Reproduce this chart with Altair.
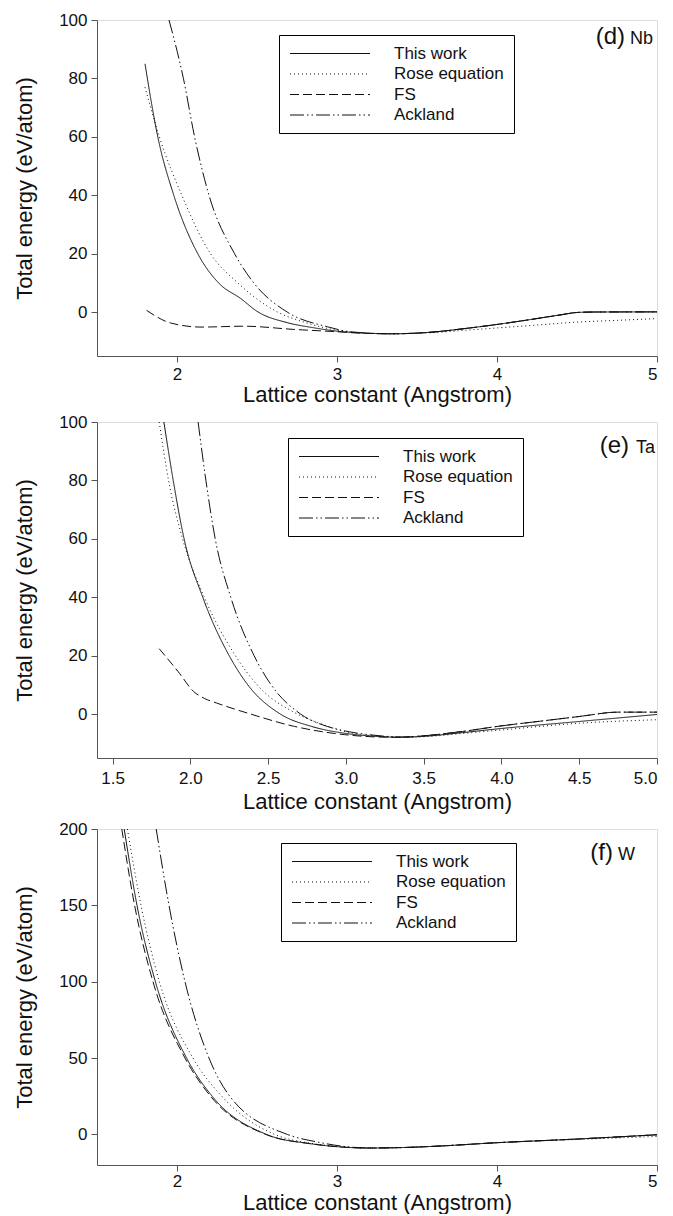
import altair as alt
import pandas as pd

FONT = "Liberation Sans"
SERIES = ["This work", "Rose equation", "FS", "Ackland"]
DASHES = [[1, 0], [1, 3], [9, 4], [14, 3, 1.5, 3, 1.5, 3]]

# ---------------- (d) Nb ----------------
nb_work_x = [1.80, 1.88, 1.98, 2.13, 2.26, 2.40, 2.50, 2.69, 2.85, 3.00, 3.20, 3.34, 3.60, 3.80, 4.00, 4.20, 4.40, 4.50, 4.60, 5.00]
nb_work_y = [85, 60, 40, 20, 10, 4.6, 0.3, -3.6, -5.3, -6.5, -7.2, -7.4, -6.8, -5.6, -4.2, -2.6, -0.9, -0.1, 0.05, 0.1]
nb_rose_x = [1.80, 1.89, 2.03, 2.21, 2.38, 2.63, 2.80, 3.00, 3.20, 3.34, 3.60, 3.80, 4.00, 4.25, 4.50, 4.75, 5.00]
nb_rose_y = [77, 60, 40, 20, 10, 0, -3.5, -6.2, -7.2, -7.4, -7.0, -6.2, -5.4, -4.4, -3.4, -2.8, -2.2]
nb_fs_x = [1.81, 1.96, 2.15, 2.42, 2.73, 3.00, 3.15, 3.34, 3.60, 3.80, 4.00, 4.20, 4.40, 4.50, 4.60, 5.00]
nb_fs_y = [0.6, -3.7, -5.1, -4.8, -5.9, -6.7, -7.2, -7.4, -6.8, -5.6, -4.2, -2.6, -0.9, -0.1, 0.05, 0.1]
nb_ack_x = [1.95, 2.04, 2.11, 2.20, 2.36, 2.48, 2.69, 2.94, 3.10, 3.34, 3.60, 3.80, 4.00, 4.20, 4.40, 4.50, 4.60, 5.00]
nb_ack_y = [100, 80, 60, 40, 20, 10, 0, -5.0, -6.8, -7.4, -6.8, -5.6, -4.2, -2.6, -0.9, -0.1, 0.05, 0.1]

# ---------------- (e) Ta ----------------
ta_work_x = [1.83, 1.89, 1.96, 2.08, 2.25, 2.37, 2.58, 2.78, 3.00, 3.20, 3.35, 3.50, 3.75, 4.00, 4.50, 5.00]
ta_work_y = [100, 80, 60, 40, 20, 10, 0, -4.2, -6.6, -7.6, -7.9, -7.6, -6.3, -4.9, -2.5, -0.1]
ta_rose_x = [1.80, 1.86, 1.95, 2.09, 2.29, 2.43, 2.69, 2.85, 3.00, 3.20, 3.35, 3.50, 3.75, 4.00, 4.50, 5.00]
ta_rose_y = [100, 80, 60, 40, 20, 10, 0, -3.5, -6.0, -7.5, -7.9, -7.7, -6.6, -5.4, -3.1, -1.9]
ta_fs_x = [1.80, 1.93, 2.02, 2.09, 2.17, 2.39, 2.67, 2.99, 3.20, 3.35, 3.50, 3.75, 4.00, 4.25, 4.50, 4.75, 5.00]
ta_fs_y = [22.4, 14, 7.8, 5.4, 3.8, 0, -4.2, -7.0, -7.8, -7.9, -7.4, -5.9, -4.0, -2.4, -0.8, 0.7, 0.7]
ta_ack_x = [2.05, 2.10, 2.16, 2.26, 2.41, 2.52, 2.71, 2.88, 3.00, 3.20, 3.35, 3.50, 3.75, 4.00, 4.25, 4.50, 4.75, 5.00]
ta_ack_y = [100, 80, 60, 40, 20, 10, 0, -4.2, -5.8, -7.3, -7.8, -7.4, -5.9, -4.0, -2.4, -0.8, 0.7, 0.7]

# ---------------- (f) W ----------------
w_work_x = [1.67, 1.75, 1.865, 2.06, 2.22, 2.56, 2.83, 3.00, 3.20, 3.40, 3.60, 4.00, 4.50, 5.00]
w_work_y = [200, 150, 100, 50, 25, 0, -6.0, -8.0, -8.9, -8.6, -7.8, -5.4, -3.0, -0.2]
w_rose_x = [1.69, 1.775, 1.89, 2.10, 2.28, 2.61, 2.82, 3.00, 3.20, 3.40, 3.60, 4.00, 4.50, 5.00]
w_rose_y = [200, 150, 100, 50, 25, 0, -5.5, -7.8, -8.9, -8.6, -7.8, -5.4, -3.3, -1.3]
w_fs_x = [1.655, 1.735, 1.85, 2.05, 2.21, 2.555, 2.83, 3.00, 3.20, 3.40, 3.60, 4.00, 4.50, 5.00]
w_fs_y = [200, 150, 100, 50, 25, 0, -6.0, -8.0, -8.9, -8.6, -7.8, -5.4, -3.0, -0.2]
w_ack_x = [1.87, 1.95, 2.05, 2.20, 2.33, 2.69, 2.88, 3.05, 3.20, 3.40, 3.60, 4.00, 4.50, 5.00]
w_ack_y = [200, 150, 100, 50, 25, 0, -5.0, -7.9, -8.8, -8.6, -7.8, -5.4, -3.0, -0.2]

panel_letters = ["(d)", "(e)", "(f)"]
panel_elements = ["Nb", "Ta", "W"]

x_title = "Lattice constant (Angstrom)"
y_title = "Total energy (eV/atom)"


def table(curves):
    rows = []
    for name, xs, ys in curves:
        for i, (a, e) in enumerate(zip(xs, ys)):
            rows.append({"a": a, "e": e, "series": name, "i": i})
    return pd.DataFrame(rows)


def panel(curves, xdom, ydom, xticks, yticks, xfmt, letter, element,
          leg_x, leg_y, lab_x, lab_y, lab_gap, label_pad=4, title_pad=2):
    df = table(curves)
    axis_common = dict(
        labelFont=FONT, titleFont=FONT, labelFontSize=17, titleFontSize=22,
        titleFontWeight="normal", labelColor="#111", titleColor="#111",
        domainColor="#555", tickColor="#555", tickSize=6, grid=False,
    )
    lines = alt.Chart(df).mark_line(
        color="#111", strokeWidth=1, interpolate="monotone"
    ).encode(
        x=alt.X("a:Q", scale=alt.Scale(domain=xdom, nice=False, zero=False),
                axis=alt.Axis(values=xticks, format=xfmt, title=x_title,
                              labelPadding=label_pad, titlePadding=title_pad,
                              **axis_common)),
        y=alt.Y("e:Q", scale=alt.Scale(domain=ydom, nice=False, zero=False),
                axis=alt.Axis(values=yticks, format="d", title=y_title,
                              labelPadding=4, titlePadding=22, **axis_common)),
        strokeDash=alt.StrokeDash(
            "series:N",
            scale=alt.Scale(domain=SERIES, range=DASHES),
            title=None,
            legend=alt.Legend(
                orient="none", legendX=leg_x, legendY=leg_y,
                strokeColor="black", padding=10,
                symbolType="M-1.5,0H14.5", symbolSize=100,
                symbolStrokeWidth=1, symbolStrokeColor="#111",
                labelOffset=88, rowPadding=2.5,
                labelFont=FONT, labelFontSize=17, labelColor="#111",
            ),
        ),
        order="i:Q",
    )
    t1 = alt.Chart(pd.DataFrame({"t": [letter]})).mark_text(
        font=FONT, fontSize=24, align="right", baseline="alphabetic", color="#111"
    ).encode(text="t:N", x=alt.value(lab_x - lab_gap), y=alt.value(lab_y))
    t2 = alt.Chart(pd.DataFrame({"t": [element]})).mark_text(
        font=FONT, fontSize=18, align="right", baseline="alphabetic", color="#111"
    ).encode(text="t:N", x=alt.value(lab_x), y=alt.value(lab_y))
    return alt.layer(lines, t1, t2).properties(width=560, height=336)


p1 = panel(
    [("This work", nb_work_x, nb_work_y), ("Rose equation", nb_rose_x, nb_rose_y),
     ("FS", nb_fs_x, nb_fs_y), ("Ackland", nb_ack_x, nb_ack_y)],
    [1.5, 5], [-15, 100], [2, 3, 4, 5], [0, 20, 40, 60, 80, 100], "d",
    panel_letters[0], panel_elements[0], 182, 15, 556, 24, 28,
)
p2 = panel(
    [("This work", ta_work_x, ta_work_y), ("Rose equation", ta_rose_x, ta_rose_y),
     ("FS", ta_fs_x, ta_fs_y), ("Ackland", ta_ack_x, ta_ack_y)],
    [1.4, 5], [-15, 100], [1.5, 2.0, 2.5, 3.0, 3.5, 4.0, 4.5, 5.0], [0, 20, 40, 60, 80, 100], ".1f",
    panel_letters[1], panel_elements[1], 191, 16, 558, 31, 26, label_pad=6, title_pad=5,
)
p3 = panel(
    [("This work", w_work_x, w_work_y), ("Rose equation", w_rose_x, w_rose_y),
     ("FS", w_fs_x, w_fs_y), ("Ackland", w_ack_x, w_ack_y)],
    [1.5, 5], [-20, 200], [2, 3, 4, 5], [0, 50, 100, 150, 200], "d",
    panel_letters[2], panel_elements[2], 184, 14, 538, 31, 22, label_pad=2, title_pad=3,
)

chart = alt.vconcat(p1, p2, p3, spacing=6).resolve_scale(
    x="independent", y="independent", strokeDash="independent"
).resolve_legend(strokeDash="independent").properties(
    padding={"left": 5, "top": 2, "right": 0, "bottom": 0}
).configure_view(stroke="#666", strokeWidth=1).configure(background="white")

chart.save("out.html", embed_options={"renderer": "svg", "actions": False})
